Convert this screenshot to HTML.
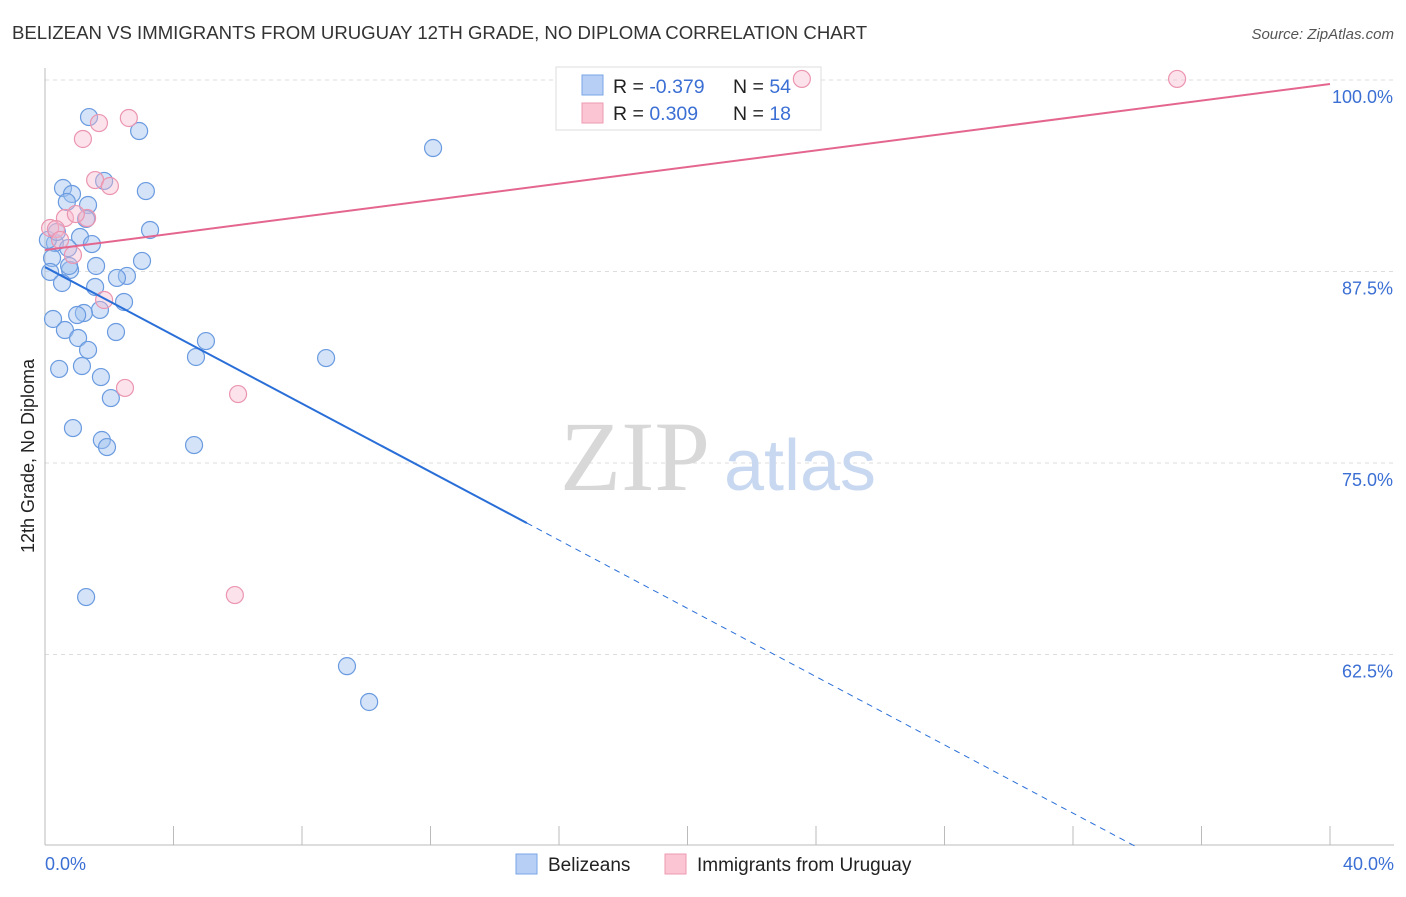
<!DOCTYPE html>
<html><head><meta charset="utf-8">
<style>
body{margin:0;background:#fff;width:1406px;height:892px;overflow:hidden;font-family:"Liberation Sans",sans-serif;}
svg text{font-family:"Liberation Sans",sans-serif;}
</style></head>
<body>
<svg id="chart" width="1406" height="892">
<text x="12" y="39" font-size="18.6" fill="#333">BELIZEAN VS IMMIGRANTS FROM URUGUAY 12TH GRADE, NO DIPLOMA CORRELATION CHART</text>
<text x="1394" y="39" font-size="15" fill="#555" font-style="italic" text-anchor="end">Source: ZipAtlas.com</text>
<g id="grid"></g>
<g id="ticks"></g>
<g>
<text x="635" y="490" font-size="100" fill="#d8d8d8" text-anchor="middle" style="font-family:'Liberation Serif',serif">ZIP</text>
<text x="800" y="490" font-size="72" fill="#c8d8f0" text-anchor="middle">atlas</text>
</g>
<line x1="45" y1="68" x2="45" y2="845" stroke="#bbb"/>
<line x1="45" y1="845" x2="1394" y2="845" stroke="#bbb"/>
<g id="xticks"></g>
<text x="45" y="870" font-size="18" fill="#3b6fd4">0.0%</text>
<text x="1394" y="870" font-size="18" fill="#3b6fd4" text-anchor="end">40.0%</text>
<text transform="translate(34,456) rotate(-90)" font-size="18" fill="#222" text-anchor="middle">12th Grade, No Diploma</text>
<g>
<rect x="556" y="67" width="265" height="63" fill="#fff" stroke="#ddd"/>
<rect x="582" y="75" width="21" height="20" fill="#b7cff5" stroke="#7aa4e6"/>
<rect x="582" y="103" width="21" height="20" fill="#fbc5d3" stroke="#ee9ab3"/>
<text x="613" y="93" font-size="19.5" fill="#222">R = <tspan fill="#3b6fd4">-0.379</tspan></text>
<text x="733" y="93" font-size="19.5" fill="#222">N = <tspan fill="#3b6fd4">54</tspan></text>
<text x="613" y="120" font-size="19.5" fill="#222">R = <tspan fill="#3b6fd4"> 0.309</tspan></text>
<text x="733" y="120" font-size="19.5" fill="#222">N = <tspan fill="#3b6fd4"> 18</tspan></text>
</g>
<g id="pts"></g>
<g id="lines"></g>
<g>
<rect x="516" y="854" width="21" height="20" fill="#b7cff5" stroke="#7aa4e6"/>
<text x="548" y="871" font-size="19" fill="#222">Belizeans</text>
<rect x="665" y="854" width="21" height="20" fill="#fbc5d3" stroke="#ee9ab3"/>
<text x="697" y="871" font-size="19" fill="#222">Immigrants from Uruguay</text>
</g>
</svg>
<script>
const yTicks=[100,87.5,75,62.5];
const yTickLabels=["100.0%","87.5%","75.0%","62.5%"];
const xTickVals=[0,4,8,12,16,20,24,28,32,36,40];
const blueX=[1.37,2.93,12.08,0.56,3.14,0.84,0.68,1.34,1.84,1.28,3.27,1.09,0.31,1.46,0.72,0.22,3.02,1.59,0.78,0.16,0.53,2.55,2.24,1.56,2.46,1.71,1.21,1.00,0.25,0.62,2.21,1.03,5.01,1.34,4.70,8.75,0.44,1.15,1.74,2.05,0.87,1.77,1.93,4.64,1.28,9.40,10.09,0.09,0.75,0.37];
const blueY=[97.58,96.67,95.56,92.95,92.75,92.56,92.04,91.84,93.41,90.93,90.21,89.75,89.36,89.29,89.03,88.38,88.19,87.86,87.60,87.47,86.75,87.21,87.08,86.49,85.51,84.99,84.79,84.66,84.40,83.68,83.55,83.16,82.96,82.38,81.92,81.85,81.14,81.33,80.61,79.24,77.28,76.50,76.04,76.17,66.25,61.74,59.40,89.56,87.86,90.08];
const pinkX=[1.68,2.61,1.18,1.56,2.02,0.62,1.31,0.96,0.16,0.34,0.47,0.87,1.84,2.49,6.01,5.91,23.56,35.24];
const pinkY=[97.19,97.52,96.15,93.47,93.08,90.99,90.99,91.25,90.34,90.27,89.56,88.58,85.64,79.90,79.50,66.38,100.07,100.07];
const blueLine=[87.79,-1.114];
const pinkLine=[88.90,0.271];
const sx=v=>45+v/40*1285;
const sy=v=>80+(100-v)/12.5*191.5;
const NS="http://www.w3.org/2000/svg";
function mk(tag,attrs,parent){const e=document.createElementNS(NS,tag);for(const k in attrs)e.setAttribute(k,attrs[k]);document.getElementById(parent).appendChild(e);return e;}
yTicks.forEach((t,i)=>{
  const g=mk('line',{x1:45,x2:1394,y1:sy(t),y2:sy(t),stroke:'#ddd','stroke-dasharray':'4,4'},'grid');
  
  
  const tx=mk('text',{x:1393,y:sy(t)+23,'font-size':18,fill:'#3b6fd4','text-anchor':'end'},'ticks');
  tx.textContent=yTickLabels[i];
  
  
});
xTickVals.forEach(v=>{
  const l=mk('line',{x1:sx(v),x2:sx(v),y1:826,y2:845,stroke:'#bbb'},'xticks');
  
  
});
blueX.forEach((x,i)=>{
  const c=mk('circle',{cx:sx(x),cy:sy(blueY[i]),r:8.5,fill:'rgba(160,192,240,0.45)',stroke:'#6a9be0','stroke-width':1.2},'pts');
  
  
});
pinkX.forEach((x,i)=>{
  const c=mk('circle',{cx:sx(x),cy:sy(pinkY[i]),r:8.5,fill:'rgba(248,184,204,0.4)',stroke:'#eb95b0','stroke-width':1.2},'pts');
  
  
});
const bEnd=15, bZero=(50-blueLine[0])/blueLine[1];
const b1=mk('line',{x1:sx(0),y1:sy(blueLine[0]),x2:sx(bEnd),y2:sy(blueLine[0]+blueLine[1]*bEnd),stroke:'#2a6fd8','stroke-width':2},'lines');


const b2=mk('line',{x1:sx(bEnd),y1:sy(blueLine[0]+blueLine[1]*bEnd),x2:sx(bZero),y2:sy(50),stroke:'#2a6fd8','stroke-width':1,'stroke-dasharray':'6,5'},'lines');


const p1=mk('line',{x1:sx(0),y1:sy(pinkLine[0]),x2:sx(40),y2:sy(pinkLine[0]+pinkLine[1]*40),stroke:'#e4668f','stroke-width':2},'lines');


</script>
</body></html>
